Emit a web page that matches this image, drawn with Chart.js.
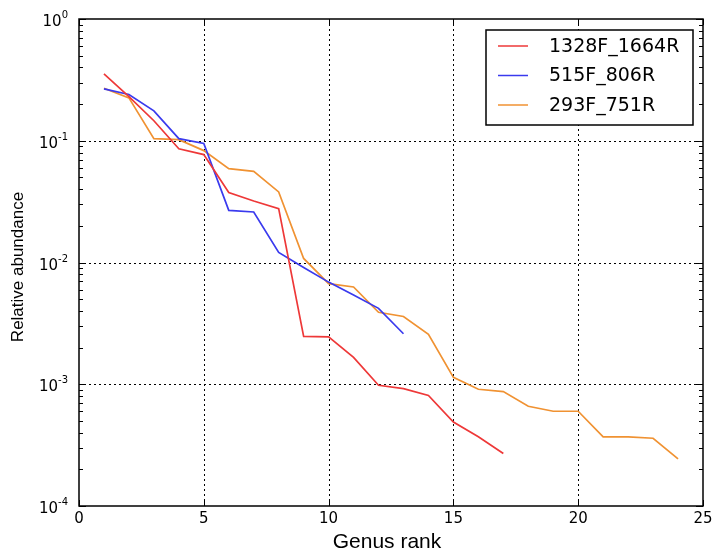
<!DOCTYPE html>
<html>
<head>
<meta charset="utf-8">
<script src="https://cdn.jsdelivr.net/npm/chart.js@4"></script>
<style>
  html, body { margin: 0; padding: 0; background: #fff; }
  #wrap { width: 713px; height: 556px; }
</style>
</head>
<body>
<div id="wrap"><canvas id="rankChart" width="713" height="556"></canvas></div>
<script>
// genus rank vs relative abundance
const seriesNames = ['1328F_1664R', '515F_806R', '293F_751R'];
const seriesColors = ['#ee3838', '#3a3aee', '#f09232'];

const ranks1328 = [1, 2, 3, 4, 5, 6, 7, 8, 9, 10, 11, 12, 13, 14, 15, 16, 17];
const abund1328 = [0.354, 0.23, 0.146, 0.086, 0.077, 0.0376, 0.032, 0.0277, 0.00247, 0.00245,
  0.00166, 0.00098, 0.00092, 0.00081, 0.00049, 0.00037, 0.00027];

const ranks515 = [1, 2, 3, 4, 5, 6, 7, 8, 9, 10, 11, 12, 13];
const abund515 = [0.267, 0.24, 0.176, 0.104, 0.095, 0.0268, 0.026, 0.0121, 0.0091, 0.0069,
  0.0054, 0.0042, 0.0026];

const ranks293 = [1, 2, 3, 4, 5, 6, 7, 8, 9, 10, 11, 12, 13, 14, 15, 16, 17, 18, 19, 20, 21, 22, 23, 24];
const abund293 = [0.27, 0.225, 0.104, 0.102, 0.083, 0.059, 0.056, 0.038, 0.0108, 0.0067,
  0.0063, 0.0039, 0.0036, 0.00257, 0.00114, 0.00091, 0.00087, 0.00066, 0.0006, 0.0006,
  0.00037, 0.00037, 0.00036, 0.000244];

const xTicks = [0, 5, 10, 15, 20, 25];
const yExponents = [0, -1, -2, -3, -4];

const FONT = '"DejaVu Sans", sans-serif';
const TITLE_FONT = '"Liberation Sans", Arial, sans-serif';

function pairs(xs, ys) {
  return xs.map((x, i) => ({ x: x, y: ys[i] }));
}

// matplotlib-ish frame: dotted grid, inward ticks, superscript labels, boxed legend
const frameAxes = {
  id: 'frameAxes',
  beforeDatasetsDraw(chart) {
    const { ctx, chartArea: a, scales: { x, y } } = chart;
    ctx.save();
    ctx.strokeStyle = '#000';
    ctx.lineWidth = 1;
    ctx.setLineDash([2, 3]);
    xTicks.slice(1, -1).forEach(v => {
      const px = Math.round(x.getPixelForValue(v)) + 0.5;
      ctx.beginPath(); ctx.moveTo(px, a.top); ctx.lineTo(px, a.bottom); ctx.stroke();
    });
    yExponents.slice(1, -1).forEach(e => {
      const py = Math.round(y.getPixelForValue(Math.pow(10, e))) + 0.5;
      ctx.beginPath(); ctx.moveTo(a.left, py); ctx.lineTo(a.right, py); ctx.stroke();
    });
    ctx.restore();
  },
  afterDatasetsDraw(chart) {
    const { ctx, chartArea: a, scales: { x, y } } = chart;
    ctx.save();
    ctx.strokeStyle = '#000';
    ctx.lineWidth = 1;
    // ticks
    ctx.beginPath();
    xTicks.forEach(v => {
      const px = Math.round(x.getPixelForValue(v)) + 0.5;
      ctx.moveTo(px, a.bottom); ctx.lineTo(px, a.bottom - 6);
      ctx.moveTo(px, a.top); ctx.lineTo(px, a.top + 6);
    });
    yExponents.forEach(e => {
      const py = Math.round(y.getPixelForValue(Math.pow(10, e))) + 0.5;
      ctx.moveTo(a.left, py); ctx.lineTo(a.left + 7, py);
      ctx.moveTo(a.right, py); ctx.lineTo(a.right - 7, py);
      if (e > -4) {
        for (let m = 2; m <= 9; m++) {
          const pm = Math.round(y.getPixelForValue(m * Math.pow(10, e - 1))) + 0.5;
          ctx.moveTo(a.left, pm); ctx.lineTo(a.left + 4, pm);
          ctx.moveTo(a.right, pm); ctx.lineTo(a.right - 4, pm);
        }
      }
    });
    ctx.stroke();
    // frame
    ctx.lineWidth = 1.5;
    ctx.strokeRect(a.left, a.top, a.right - a.left, a.bottom - a.top);

    // tick labels
    ctx.fillStyle = '#000';
    ctx.font = '15px ' + FONT;
    ctx.textAlign = 'center';
    ctx.textBaseline = 'top';
    xTicks.forEach(v => {
      ctx.fillText(String(v), x.getPixelForValue(v), a.bottom + 6);
    });
    yExponents.forEach(e => {
      const py = y.getPixelForValue(Math.pow(10, e));
      ctx.font = '10px ' + FONT;
      const sup = String(e);
      const supW = ctx.measureText(sup).width;
      ctx.textAlign = 'left';
      ctx.textBaseline = 'alphabetic';
      const supX = a.left - 11 - supW;
      ctx.fillText(sup, supX, py - 1);
      ctx.font = '15px ' + FONT;
      ctx.textAlign = 'right';
      ctx.fillText('10', supX, py + 7);
    });

    // axis titles
    ctx.font = '21px ' + TITLE_FONT;
    ctx.textAlign = 'center';
    ctx.textBaseline = 'middle';
    ctx.fillText('Genus rank', 387, 542);
    ctx.save();
    ctx.translate(18, 267);
    ctx.rotate(-Math.PI / 2);
    ctx.font = '17px ' + TITLE_FONT;
    ctx.fillText('Relative abundance', 0, 0);
    ctx.restore();

    // legend
    const lx = 486, ly = 30, lw = 207, lh = 95;
    ctx.fillStyle = '#fff';
    ctx.fillRect(lx, ly, lw, lh);
    ctx.lineWidth = 1.5;
    ctx.strokeRect(lx, ly, lw, lh);
    ctx.font = '19px ' + FONT;
    ctx.textAlign = 'left';
    ctx.textBaseline = 'middle';
    seriesNames.forEach((name, i) => {
      const ry = 46 + i * 29.5;
      ctx.strokeStyle = seriesColors[i];
      ctx.lineWidth = 1.5;
      ctx.beginPath(); ctx.moveTo(498, ry); ctx.lineTo(528, ry); ctx.stroke();
      ctx.fillStyle = '#000';
      ctx.fillText(name, 549, ry + 1);
    });
    ctx.restore();
  }
};

const ctx = document.getElementById('rankChart').getContext('2d');
const rankChart = new Chart(ctx, {
  type: 'line',
  data: {
    datasets: [
      { label: seriesNames[0], data: pairs(ranks1328, abund1328), borderColor: seriesColors[0] },
      { label: seriesNames[1], data: pairs(ranks515, abund515), borderColor: seriesColors[1] },
      { label: seriesNames[2], data: pairs(ranks293, abund293), borderColor: seriesColors[2] }
    ]
  },
  options: {
    responsive: false,
    animation: false,
    layout: { padding: { left: 79, right: 10, top: 19, bottom: 50 } },
    elements: {
      point: { radius: 0 },
      line: { borderWidth: 1.7, tension: 0, fill: false }
    },
    plugins: { legend: { display: false }, tooltip: { enabled: false } },
    scales: {
      x: { type: 'linear', min: 0, max: 25, display: false },
      y: { type: 'logarithmic', min: 0.0001, max: 1, display: false }
    }
  },
  plugins: [frameAxes]
});
</script>
</body>
</html>
